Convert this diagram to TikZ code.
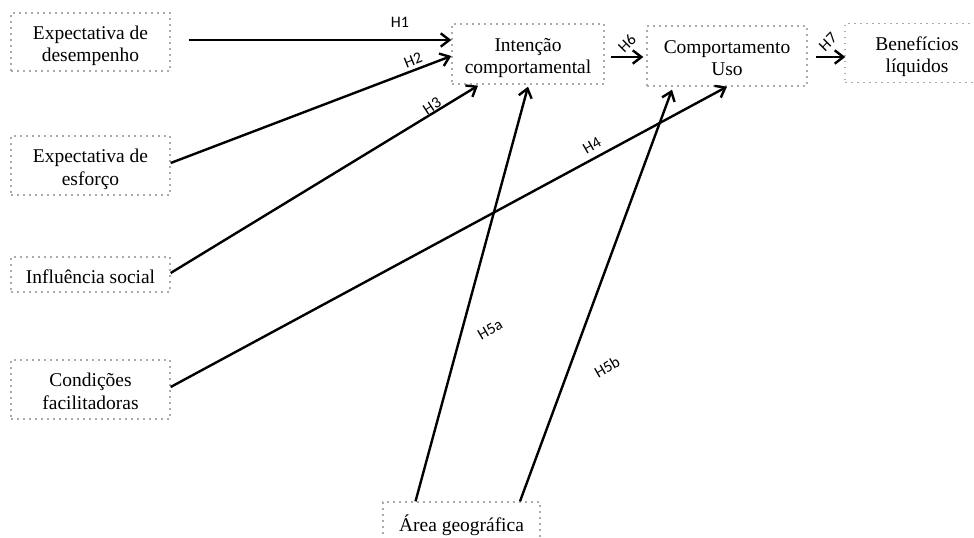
\documentclass[tikz,border=0pt]{standalone}
\usepackage{fontspec}
\setmainfont{Liberation Serif}
\newfontfamily\lblfont{Carlito}
\usetikzlibrary{arrows.meta,calc}
% centred lines, set a little low inside their box
\newcommand{\boxtext}[1]{\raisebox{-3pt}[\height][\depth]{\begin{tabular}{@{}c@{}}#1\end{tabular}}}
\begin{document}
\begin{tikzpicture}[x=0.75pt,y=-0.75pt,
  construct/.style={draw=black!33, line width=1pt, dash pattern=on 1.4pt off 3.1pt,
    inner sep=0pt, font=\fontsize{14.6pt}{16.8pt}\selectfont},
  link/.style={line width=1.8pt, -{Straight Barb[length=6.5pt,width=10pt]}},
  hyp/.style={font=\lblfont\fontsize{12pt}{14pt}\selectfont, inner sep=0pt}]
\useasboundingbox (0,0) rectangle (974,537);

% constructs
\node[construct, minimum width=119.25pt, minimum height=43.5pt] (desemp) at (90.5,42) {\boxtext{Expectativa de\\desempenho}};
\node[construct, minimum width=119.25pt, minimum height=44.25pt] (esforco) at (90.5,165.5) {\boxtext{Expectativa de\\esforço}};
\node[construct, minimum width=119.25pt, minimum height=26.25pt] (social) at (90.5,274.5) {\raisebox{-2pt}[\height][\depth]{Influência social}};
\node[construct, minimum width=119.25pt, minimum height=44.25pt] (condicoes) at (90.5,389.5) {\boxtext{Condições\\facilitadoras}};
\node[construct, minimum width=114pt, minimum height=45pt] (intencao) at (528,54) {\boxtext{Intenção\\comportamental}};
\node[construct, minimum width=120pt, minimum height=45pt] (uso) at (727,56) {\boxtext{Comportamento\\Uso}};
\node[construct, minimum width=108pt, minimum height=44.25pt] (benef) at (917,53) {\boxtext{Benefícios\\líquidos}};
\node[construct, minimum width=117.75pt, minimum height=30pt] (area) at (461.5,522) {\boxtext{Área geográfica}};

% hypotheses
\draw[link] ($(desemp.east)+(18,-2)$) -- ($(intencao.west)+(0,-14)$);
\draw[link] ($(esforco.east)+(0,-2.5)$) -- ($(intencao.west)+(0,2)$);
\draw[link] ($(social.east)+(0,-1.5)$) -- ($(intencao.south)+(-50,1)$);
\draw[link] ($(condicoes.east)+(0,-2.5)$) -- (uso.south);
\draw[link] ($(area.north)+(-46,0)$) -- ($(intencao.south)+(0,2)$);
\draw[link] ($(area.north)+(58.5,0)$) -- ($(uso.south)+(-55,3)$);
\draw[link] ($(intencao.east)+(6,3)$) -- ($(uso.west)+(-3,1)$);
\draw[link] ($(uso.east)+(8,1)$) -- ($(benef.west)+(1,4)$);

% labels
\node[hyp] (h1) at (400,22) {H1};
\node[hyp, rotate=22] (h2) at (413,60) {H2};
\node[hyp, rotate=33] (h3) at (432,106) {H3};
\node[hyp, rotate=30] (h4) at (592,146) {H4};
\node[hyp, rotate=30] (h5a) at (490,330) {H5a};
\node[hyp, rotate=30] (h5b) at (607,367) {H5b};
\node[hyp, rotate=45] (h6) at (627,43) {H6};
\node[hyp, rotate=45] (h7) at (828,42) {H7};
\end{tikzpicture}
\end{document}
